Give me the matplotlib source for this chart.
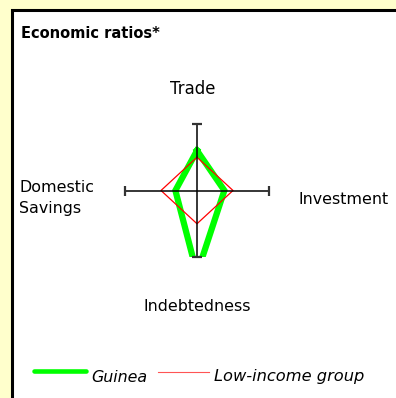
import matplotlib
matplotlib.use('Agg')
import matplotlib.pyplot as plt
import numpy as np
from matplotlib.patches import Rectangle

# --- Data ---
axis_names = ['Trade', 'Investment', 'Indebtedness', 'Domestic Savings']
guinea = [0.60, 0.38, 1.25, 0.30]
low_income = [0.50, 0.50, 0.50, 0.50]

W, H = 396, 398
fig = plt.figure(figsize=(W / 100, H / 100), dpi=100)
fig.patch.set_facecolor('#ffffcc')

def fx(px):
    return px / W

def fy(py):
    return 1 - py / H

# white panel with black border (left and top visible)
panel = Rectangle((fx(12), fy(430)), fx(420), 420 / H, transform=fig.transFigure,
                  facecolor='white', edgecolor='black', linewidth=2.2, zorder=-5)
fig.patches.append(panel)

fig.text(fx(21), fy(37.7), 'Economic ratios*', fontsize=10.5, fontweight='bold',
         ha='left', va='baseline')

# --- Radar axes ---
ax = fig.add_axes([fx(125), fy(257), fx(144), 133 / H])
ax.set_xlim(-1, 1)
ax.set_ylim(-1, 1)
ax.axis('off')

# directions: up, right, down, left
dirs = np.array([[0, 1], [1, 0], [0, -1], [-1, 0]])

def to_xy(vals):
    pts = dirs * np.array(vals)[:, None]
    pts = np.vstack([pts, pts[:1]])
    return pts[:, 0], pts[:, 1]

gx, gy = to_xy(guinea)
ax.plot(gx, gy, color='#00ff00', lw=4.5, solid_joinstyle='miter', zorder=2)
lx, ly = to_xy(low_income)
ax.plot(lx, ly, color='#ff0000', lw=0.9, zorder=3)

# axis cross with end caps, drawn on top
ax.plot([-1, 1], [0, 0], color='black', lw=1.1, clip_on=False, zorder=4)
ax.plot([0, 0], [-1, 1], color='black', lw=1.1, clip_on=False, zorder=4)
ax.plot([0, 0], [1, -1], ls='none', marker='_', ms=7.5, mew=1.6,
        color='#333333', clip_on=False, zorder=4)
ax.plot([-1, 1], [0, 0], ls='none', marker='|', ms=7.5, mew=1.6,
        color='#333333', clip_on=False, zorder=4)

# axis labels
fs = 11.4
fig.text(fx(193), fy(94), axis_names[0], fontsize=11.9, ha='center', va='baseline')
fig.text(fx(298), fy(204), axis_names[1], fontsize=fs, ha='left', va='baseline')
fig.text(fx(197), fy(311), axis_names[2], fontsize=fs, ha='center', va='baseline')
fig.text(fx(19.5), fy(192.3), 'Domestic', fontsize=fs, ha='left', va='baseline')
fig.text(fx(19.5), fy(213.3), 'Savings', fontsize=fs, ha='left', va='baseline')

# --- Legend ---
fig.add_artist(plt.Line2D([fx(34), fx(85.5)], [fy(370.5), fy(370.5)],
                          color='#00ff00', lw=3.3, solid_capstyle='round'))
fig.text(fx(91.7), fy(381.5), 'Guinea', fontsize=fs, style='italic',
         ha='left', va='baseline')
fig.add_artist(plt.Line2D([fx(157.7), fx(209)], [fy(372.3), fy(372.3)],
                          color='#ff5555', lw=0.8))
fig.text(fx(213.5), fy(381.5), 'Low-income group', fontsize=11.7, style='italic',
         ha='left', va='baseline')

fig.savefig('out.png', dpi=100, facecolor=fig.get_facecolor())
